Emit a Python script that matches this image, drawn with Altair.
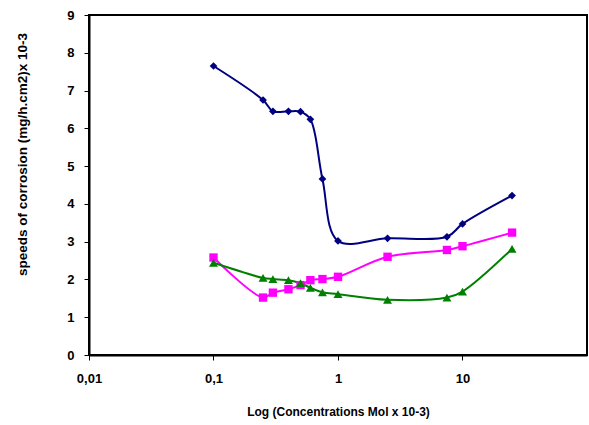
import altair as alt
import pandas as pd

concentrations = [0.1, 0.25, 0.3, 0.4, 0.5, 0.6, 0.75, 1, 2.5, 7.5, 10, 25]
series_blue = [7.65, 6.75, 6.45, 6.45, 6.44, 6.24, 4.66, 3.02, 3.09, 3.13, 3.47, 4.22]
series_pink = [2.58, 1.52, 1.65, 1.74, 1.85, 1.98, 2.01, 2.07, 2.60, 2.78, 2.88, 3.24]
series_green = [2.44, 2.04, 2.01, 1.98, 1.90, 1.78, 1.66, 1.61, 1.46, 1.52, 1.68, 2.81]
series_names = ["A", "B", "C"]
series_colors = ["#000080", "#FF00FF", "#008000"]
series_shapes = ["diamond", "square", "triangle-up"]
series_sizes = [60, 80, 60]
x_ticks = [0.01, 0.1, 1, 10]

rows = []
for name, vals in zip(series_names, [series_blue, series_pink, series_green]):
    for c, v in zip(concentrations, vals):
        rows.append({"series": name, "x": c, "y": v})
df = pd.DataFrame(rows)

FONT = "Liberation Sans"

base = alt.Chart(df).encode(
    x=alt.X(
        "x:Q",
        scale=alt.Scale(type="log", domain=[0.01, 100], nice=False),
        axis=alt.Axis(
            values=x_ticks,
            labelExpr="replace(format(datum.value, '~g'), '.', ',')",
            title="Log (Concentrations Mol x 10-3)",
            grid=False,
            tickSize=5,
            tickColor="black",
            domainColor="black",
            domainWidth=2,
            labelFont=FONT,
            labelFontSize=13,
            labelFontWeight="bold",
            labelColor="black",
            labelPadding=12,
            labelFlush=False,
            titleFont=FONT,
            titleFontSize=12,
            titleFontWeight="bold",
            titleColor="black",
            titleX=249,
            titleY=56,
            titleBaseline="middle",
            titleAlign="center",
        ),
    ),
    y=alt.Y(
        "y:Q",
        scale=alt.Scale(domain=[0, 9], nice=False),
        axis=alt.Axis(
            values=list(range(10)),
            title="speeds of corrosion (mg/h.cm2)x 10-3",
            grid=False,
            tickSize=5,
            tickColor="black",
            domainColor="black",
            domainWidth=2,
            labelFont=FONT,
            labelFontSize=13,
            labelFontWeight="bold",
            labelColor="black",
            labelPadding=10,
            titleFont=FONT,
            titleFontSize=13.5,
            titleFontWeight="bold",
            titleColor="black",
            titleAngle=-90,
            titleX=-67,
            titleY=139,
            titleBaseline="middle",
            titleAlign="center",
        ),
    ),
    color=alt.Color(
        "series:N",
        scale=alt.Scale(domain=series_names, range=series_colors),
        legend=None,
    ),
)

lines = base.mark_line(interpolate="catmull-rom", strokeWidth=2)
points = base.mark_point(filled=True, opacity=1).encode(
    shape=alt.Shape(
        "series:N",
        scale=alt.Scale(domain=series_names, range=series_shapes),
        legend=None,
    ),
    size=alt.Size(
        "series:N",
        scale=alt.Scale(domain=series_names, range=series_sizes),
        legend=None,
    ),
)

chart = (
    alt.layer(lines, points)
    .properties(
        width=498,
        height=340,
        autosize="none",
        padding={"left": 89, "top": 15, "right": 2, "bottom": 70},
        background="white",
    )
    .configure_view(stroke="black", strokeWidth=2)
)

chart.save("out.html", embed_options={"renderer": "svg", "actions": False})
